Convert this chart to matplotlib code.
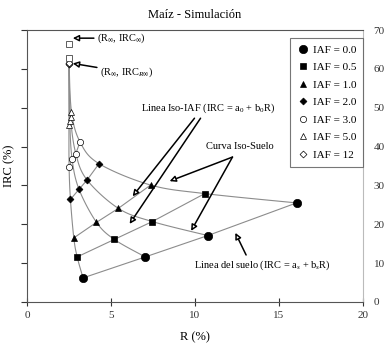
import numpy as np
import matplotlib.pyplot as plt

plt.rcParams['font.family'] = ['Liberation Serif', 'DejaVu Serif']
plt.rcParams['mathtext.fontset'] = 'custom'
plt.rcParams['mathtext.rm'] = 'Liberation Serif'
plt.rcParams['mathtext.it'] = 'Liberation Serif:italic'

# IAF levels (one marker series each), points ordered by soil (4 soils)
iaf_labels = ['IAF = 0.0', 'IAF = 0.5', 'IAF = 1.0', 'IAF = 2.0',
              'IAF = 3.0', 'IAF = 5.0', 'IAF = 12']
r_iaf = [
    [3.34, 7.04, 10.76, 16.04],
    [2.99, 5.20, 7.46, 10.58],
    [2.79, 4.14, 5.44, 7.36],
    [2.59, 3.10, 3.58, 4.29],
    [2.51, 2.69, 2.91, 3.16],
    [2.50, 2.55, 2.60, 2.65],
    [2.50, 2.50, 2.50, 2.51],
]
irc_iaf = [
    [6.2, 11.6, 17.1, 25.5],
    [11.6, 16.1, 20.7, 27.9],
    [16.5, 20.5, 24.1, 30.1],
    [26.4, 29.0, 31.4, 35.6],
    [34.8, 36.7, 38.2, 41.2],
    [45.5, 46.5, 47.5, 49.0],
    [61.2, 61.3, 61.4, 61.5],
]
# limit points (R_inf, IRC_inf)
r_inf = [2.49, 2.49]
irc_inf = [66.3, 62.9]

markers = ['o', 's', '^', 'D', 'o', '^', 'D']
msizes = [6, 5, 5, 3.5, 4.5, 5, 3.5]
filled = [True, True, True, True, False, False, False]


def smooth(x, y, n=20):
    # Catmull-Rom style smoothing, like a spreadsheet "smoothed line"
    x = np.asarray(x, float)
    y = np.asarray(y, float)
    px = np.concatenate([[x[0]], x, [x[-1]]])
    py = np.concatenate([[y[0]], y, [y[-1]]])
    xs, ys = [], []
    t = np.linspace(0, 1, n)
    for i in range(1, len(px) - 2):
        p0, p1, p2, p3 = [np.array([px[j], py[j]]) for j in (i - 1, i, i + 1, i + 2)]
        c1 = p1 + (p2 - p0) / 6
        c2 = p2 - (p3 - p1) / 6
        for tt in t:
            b = ((1 - tt) ** 3) * p1 + 3 * (1 - tt) ** 2 * tt * c1 + 3 * (1 - tt) * tt ** 2 * c2 + tt ** 3 * p2
            xs.append(b[0])
            ys.append(b[1])
    return xs, ys


fig = plt.figure(figsize=(3.9, 3.53), dpi=100)
ax = fig.add_axes([0.069, 0.1445, 0.862, 0.7705])

line_col = '#8c8c8c'
# iso-soil curves
for s in range(4):
    sx = [r_iaf[k][s] for k in range(len(r_iaf))]
    sy = [irc_iaf[k][s] for k in range(len(irc_iaf))]
    xs, ys = smooth(sx, sy)
    ax.plot(xs, ys, color=line_col, lw=0.8, zorder=1)
# vertical segment up to the limit point
ax.plot([2.50, r_inf[1]], [61.4, irc_inf[1]], color=line_col, lw=0.8, zorder=1)

# iso-IAF lines and markers
for k in range(len(iaf_labels)):
    ax.plot(r_iaf[k], irc_iaf[k], color=line_col, lw=0.8, zorder=1)
    ax.plot(r_iaf[k], irc_iaf[k], linestyle='none', marker=markers[k], ms=msizes[k],
            mfc='black' if filled[k] else 'white', mec='black', mew=0.5,
            label=iaf_labels[k], zorder=3)
ax.plot(r_inf, irc_inf, linestyle='none', marker='s', ms=4.5, mfc='white',
        mec='#444444', mew=0.6, zorder=3)

ax.set_xlim(0, 20)
ax.set_ylim(0, 70)
ax.set_xticks([0, 5, 10, 15, 20])
ax.set_yticks(range(0, 71, 10))
ax.tick_params(axis='y', left=True, right=False, labelleft=False, labelright=True,
               direction='out', length=4, labelsize=8, colors='#333333')
ax.tick_params(axis='x', direction='inout', length=6, labelsize=8, colors='#333333')
for sp in ['left', 'bottom', 'top']:
    ax.spines[sp].set_color('#555555')
ax.spines['right'].set_color('#bbbbbb')

ax.set_title('Maíz - Simulación', fontsize=9, pad=9)
ax.set_xlabel('R (%)', fontsize=9, labelpad=8)
ax.set_ylabel('IRC (%)', fontsize=9)
ax.yaxis.set_label_coords(-0.035, 0.5)

leg = ax.legend(loc='upper right', bbox_to_anchor=(1.0, 0.97), fontsize=8,
                frameon=True, fancybox=False, edgecolor='#555555',
                handletextpad=0.3, labelspacing=0.7, borderpad=0.6,
                handlelength=1.2, borderaxespad=0.0, markerscale=1.0)
leg.get_frame().set_linewidth(0.8)

aprops = dict(arrowstyle='-|>', color='black', lw=1.1, fc='white',
              mutation_scale=9, shrinkA=0, shrinkB=0)
ax.annotate(r'(R$_{\infty}$, IRC$_{\infty}$)', xy=(2.73, 67.9), xytext=(4.15, 67.9),
            fontsize=7.5, va='center', arrowprops=aprops)
ax.annotate(r'(R$_{\infty}$, IRC$_{R\infty}$)', xy=(2.73, 61.4), xytext=(4.33, 59.1),
            fontsize=7.5, va='center', arrowprops=aprops)
ax.text(10.8, 49.9, r'Linea Iso-IAF (IRC = a$_0$ + b$_0$R)', fontsize=7.5,
        ha='center', va='center')
ax.annotate('', xy=(6.29, 27.2), xytext=(9.97, 47.3), arrowprops=aprops)
ax.annotate('', xy=(6.11, 20.1), xytext=(10.33, 47.3), arrowprops=aprops)
ax.text(12.64, 40.1, 'Curva Iso-Suelo', fontsize=7.5, ha='center', va='center')
ax.annotate('', xy=(8.49, 31.1), xytext=(12.23, 37.3), arrowprops=aprops)
ax.annotate('', xy=(9.77, 18.3), xytext=(12.23, 37.3), arrowprops=aprops)
ax.text(14.0, 9.5, r'Linea del suelo (IRC = a$_s$ + b$_s$R)', fontsize=7.5,
        ha='center', va='center')
ax.annotate('', xy=(12.4, 17.8), xytext=(13.04, 12.1), arrowprops=aprops)

fig.savefig('out.png', dpi=100)
